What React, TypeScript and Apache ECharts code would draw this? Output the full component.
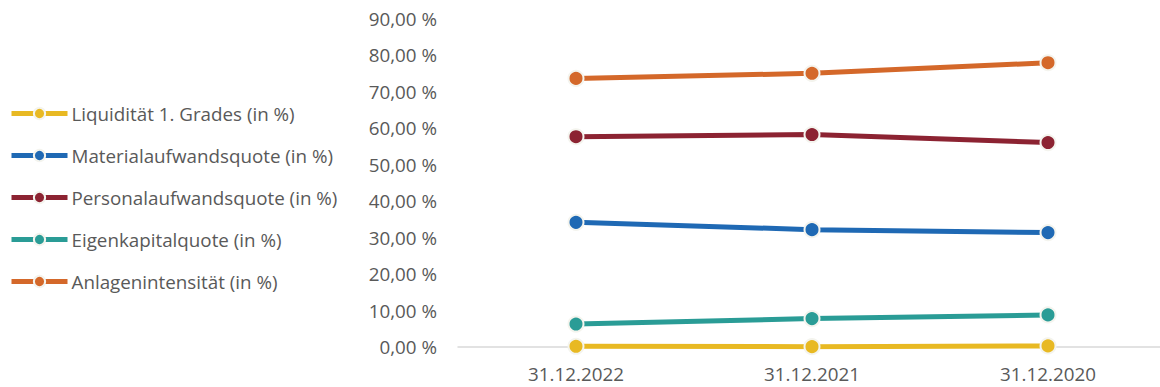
import React, { useEffect, useRef } from "react";
import * as echarts from "echarts";

const categories = ["31.12.2022", "31.12.2021", "31.12.2020"];
const seriesNames = [
  "Liquidität 1. Grades (in %)",
  "Materialaufwandsquote (in %)",
  "Personalaufwandsquote (in %)",
  "Eigenkapitalquote (in %)",
  "Anlagenintensität (in %)",
];
const liquiditaet = [0.2, 0.1, 0.3];
const material = [34.2, 32.2, 31.4];
const personal = [57.7, 58.3, 56.1];
const eigenkapital = [6.3, 7.8, 8.8];
const anlagen = [73.7, 75.1, 78.0];
const colors = ["#E8B923", "#1F69B4", "#8C2332", "#2A9C96", "#D4682A"];

const FONT = "'Open Sans', sans-serif";
const FS = 18.8;

export default function App() {
  const ref = useRef<HTMLDivElement>(null);
  useEffect(() => {
    const chart = echarts.init(ref.current!, undefined, { renderer: "svg" });
    const values = [liquiditaet, material, personal, eigenkapital, anlagen];
    chart.setOption({
      animation: false,
      textStyle: { fontFamily: FONT },
      legend: {
        orient: "vertical",
        left: 4,
        top: 99,
        itemWidth: 56,
        itemHeight: 14,
        itemGap: 23,
        data: seriesNames,
        lineStyle: { width: 5 },
        textStyle: { color: "#595959", fontSize: FS, fontFamily: FONT, padding: [0, 0, 0, -1] },
      },
      grid: { left: 458, top: 19, width: 708, height: 328, containLabel: false },
      xAxis: {
        type: "category",
        data: categories,
        boundaryGap: true,
        axisLine: { lineStyle: { color: "#D9D9D9", width: 1.5 } },
        axisTick: { show: false },
        axisLabel: { color: "#595959", fontSize: FS, margin: 17, fontFamily: FONT, lineHeight: 20 },
      },
      yAxis: {
        type: "value",
        min: 0,
        max: 90,
        interval: 10,
        splitLine: { show: false },
        axisLine: { show: false },
        axisTick: { show: false },
        axisLabel: {
          color: "#595959",
          fontSize: FS,
          margin: 21,
          fontFamily: FONT,
          formatter: (v: number) => v.toFixed(2).replace(".", ",") + " %",
        },
      },
      series: seriesNames.map((name, i) => ({
        name,
        type: "line",
        data: values[i],
        symbol: "circle",
        symbolSize: 15,
        lineStyle: { color: colors[i], width: 5 },
        itemStyle: { color: colors[i], borderColor: "#F4F4EE", borderWidth: 2 },
        z: 10 - i,
      })),
    });
    return () => chart.dispose();
  }, []);
  return (
    <div style={{ position: "absolute", left: 0, top: 0, width: 1160, height: 387, overflow: "hidden", background: "#fff" }}>
      <div ref={ref} style={{ width: 1180, height: 387 }} />
    </div>
  );
}
